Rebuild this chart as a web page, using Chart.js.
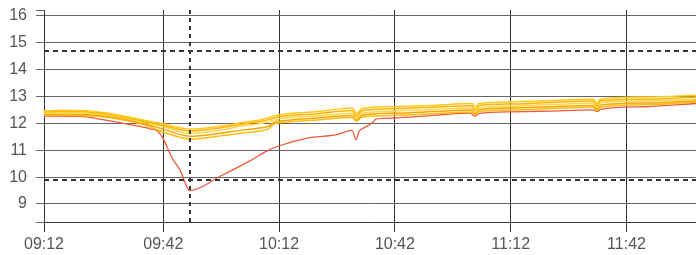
<!DOCTYPE html>
<html><head><meta charset="utf-8">
<script src="https://cdn.jsdelivr.net/npm/chart.js@4/dist/chart.umd.min.js"></script>
<style>html,body{margin:0;padding:0;background:#fff}#wrap{width:696px;height:255px}</style>
</head><body><div id="wrap"><canvas id="c"></canvas></div>
<script>
// minutes relative to 09:12
const tickTimes = [-0.9, 30, 60, 90, 120, 150];
const tickLabels = ["09:12", "09:42", "10:12", "10:42", "11:12", "11:42"];
const yTickValues = [8.33, 9, 10, 11, 12, 13, 14, 15, 16, 16.22];
const thresholds = [14.7, 9.9];
const markerTimes = [36.9];

const yellowTimes = [-0.9, 5, 15, 25, 29.9, 37, 45, 50, 55, 57, 59, 60, 70, 79, 80, 81.5, 90, 100, 110, 110.8, 111.8, 120, 130, 141.4, 142.3, 143.2, 155, 168];
const y1 = [12.46, 12.49, 12.40, 12.12, 11.99, 11.79, 11.90, 12.02, 12.13, 12.20, 12.28, 12.32, 12.44, 12.57, 12.38, 12.55, 12.63, 12.67, 12.74, 12.62, 12.74, 12.80, 12.85, 12.90, 12.75, 12.90, 12.98, 13.05];
const y2 = [12.42, 12.45, 12.36, 12.08, 11.93, 11.72, 11.84, 11.97, 12.07, 12.13, 12.21, 12.25, 12.36, 12.48, 12.28, 12.47, 12.55, 12.60, 12.66, 12.50, 12.67, 12.72, 12.78, 12.83, 12.66, 12.84, 12.90, 12.98];
const y3 = [12.38, 12.40, 12.32, 12.04, 11.88, 11.63, 11.75, 11.90, 11.99, 12.05, 12.13, 12.17, 12.28, 12.38, 12.20, 12.38, 12.46, 12.52, 12.57, 12.42, 12.58, 12.64, 12.70, 12.75, 12.58, 12.76, 12.83, 12.90];
const y4 = [12.33, 12.35, 12.27, 11.99, 11.79, 11.52, 11.64, 11.74, 11.83, 11.88, 12.05, 12.08, 12.20, 12.29, 12.12, 12.30, 12.38, 12.44, 12.50, 12.36, 12.51, 12.57, 12.62, 12.67, 12.53, 12.68, 12.76, 12.84];
const y5 = [12.30, 12.30, 12.24, 11.95, 11.68, 11.42, 11.54, 11.63, 11.72, 11.78, 12.00, 12.02, 12.13, 12.22, 12.08, 12.24, 12.30, 12.36, 12.42, 12.32, 12.44, 12.50, 12.55, 12.60, 12.48, 12.61, 12.70, 12.80];

const redTimes = [-0.9, 8.4, 15, 21.4, 26.5, 28.6, 29.9, 32.3, 34.3, 36.9, 45, 53.0, 56.9, 59.5, 67.3, 75.0, 78.9, 79.9, 80.7, 82.3, 84.1, 85.1, 89.5, 100, 109.5, 110.8, 111.8, 119.9, 130, 141.4, 142.4, 143.3, 155, 168];
const redValues = [12.27, 12.26, 12.12, 11.95, 11.80, 11.70, 11.45, 10.71, 10.27, 9.50, 10.05, 10.65, 10.98, 11.14, 11.45, 11.58, 11.74, 11.39, 11.70, 11.86, 12.01, 12.16, 12.20, 12.30, 12.38, 12.26, 12.37, 12.43, 12.46, 12.50, 12.44, 12.52, 12.62, 12.74];

const yellowSeries = [y1, y2, y3, y4, y5];
const yellowColors = ['#ffc81e', '#fbb400', '#ffd54a', '#f5a700', '#fcbc10'];

function pts(ts, vs) { return ts.map((t, i) => ({ x: t, y: vs[i] })); }

const datasets = yellowSeries.map((s, i) => ({
  data: pts(yellowTimes, s), borderColor: yellowColors[i], borderWidth: 1.5,
  pointRadius: 0, cubicInterpolationMode: 'monotone', fill: false
}));
datasets.push({ data: pts(redTimes, redValues), borderColor: '#ee5a3c', borderWidth: 1.3,
  pointRadius: 0, cubicInterpolationMode: 'monotone', fill: false });

const dashPlugin = {
  id: 'dash',
  afterDatasetsDraw(chart) {
    const { ctx, chartArea: a, scales: { x, y } } = chart;
    ctx.save();
    ctx.strokeStyle = '#333';
    ctx.lineWidth = 2;
    ctx.setLineDash([5, 4]);
    thresholds.forEach(v => {
      const py = Math.round(y.getPixelForValue(v));
      ctx.beginPath(); ctx.moveTo(a.left, py); ctx.lineTo(a.right, py); ctx.stroke();
    });
    ctx.setLineDash([4, 4]);
    markerTimes.forEach(t => {
      const px = Math.round(x.getPixelForValue(t));
      ctx.beginPath(); ctx.moveTo(px, a.top); ctx.lineTo(px, a.bottom); ctx.stroke();
    });
    ctx.restore();
  }
};

new Chart(document.getElementById('c'), {
  type: 'line',
  data: { datasets },
  plugins: [dashPlugin],
  options: {
    responsive: true, maintainAspectRatio: false, animation: false,
    layout: { padding: { top: 10, right: 0, left: 0, bottom: 0 } },
    plugins: { legend: { display: false }, tooltip: { enabled: false } },
    scales: {
      x: {
        type: 'linear', min: -0.9, max: 168,
        afterBuildTicks: s => { s.ticks = tickTimes.map(v => ({ value: v })); },
        afterFit: s => { s.height = 33; s.paddingLeft = 0; s.paddingRight = 0; },
        ticks: { autoSkip: false, maxRotation: 0, padding: 3, color: '#555',
          font: { family: 'Liberation Sans, Arial, sans-serif', size: 16 },
          callback: (v, i) => tickLabels[i] },
        grid: { color: '#333', tickLength: 10, tickColor: '#333' },
        border: { color: '#333' }
      },
      y: {
        min: 8.33, max: 16.22,
        afterBuildTicks: s => { s.ticks = yTickValues.map(v => ({ value: v })); },
        afterFit: s => { s.width = 44; s.paddingTop = 0; s.paddingBottom = 0; },
        ticks: { autoSkip: false, padding: 9, color: '#555',
          font: { family: 'Liberation Sans, Arial, sans-serif', size: 16 },
          callback: v => Number.isInteger(v) ? String(v) : '' },
        grid: { color: c => (c.tick && Number.isInteger(c.tick.value)) ? '#666' : 'rgba(0,0,0,0)',
          tickColor: '#666', tickLength: 8 },
        border: { color: '#333' }
      }
    }
  }
});
</script></body></html>
